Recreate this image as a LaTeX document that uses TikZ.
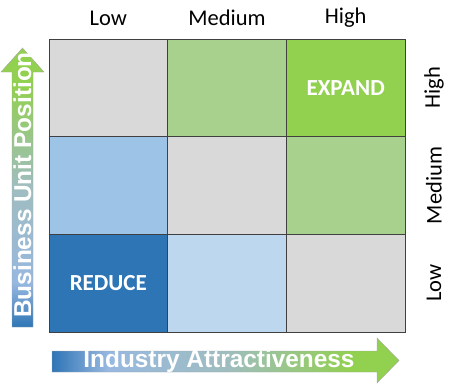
\documentclass[tikz,border=0pt]{standalone}
\usepackage{fontspec}
\setmainfont{Carlito}
\newfontfamily\arrowfont{Liberation Sans}
\definecolor{cellgray}{HTML}{D9D9D9}
\definecolor{palegreen}{HTML}{A9D18E}
\definecolor{brightgreen}{HTML}{92D050}
\definecolor{midblue}{HTML}{9DC3E6}
\definecolor{deepblue}{HTML}{2E75B6}
\definecolor{paleblue}{HTML}{BDD7EE}
\definecolor{fadeblue}{HTML}{97B8E0}
\definecolor{fadegray}{HTML}{9FBDC0}
\pgfdeclarehorizontalshading{xgrad}{100bp}{color(0bp)=(deepblue); color(25bp)=(deepblue); color(33bp)=(fadeblue); color(50bp)=(fadegray); color(68bp)=(brightgreen); color(100bp)=(brightgreen)}
\pgfdeclareverticalshading{ygrad}{100bp}{color(0bp)=(deepblue); color(25bp)=(deepblue); color(33bp)=(fadeblue); color(50bp)=(fadegray); color(68bp)=(brightgreen); color(100bp)=(brightgreen)}
\tikzset{
  cell/.style={draw=black!75,line width=0.8pt,minimum width=118.67pt,minimum height=97.67pt,inner sep=0pt,outer sep=0pt},
  axislabel/.style={font=\fontsize{22.5}{26}\selectfont},
  celltext/.style={text=white,font=\fontsize{23}{26}\selectfont\bfseries},
  arrowtext/.style={text=white,font=\arrowfont\fontsize{24.4}{28}\selectfont\bfseries}
}
\begin{document}
\begin{tikzpicture}[x=1pt,y=-1pt]
  \useasboundingbox (0,0) rectangle (454,384);
  % grid of cells
  \node[cell,fill=cellgray]    (hl) at (108.33,87.83) {};
  \node[cell,fill=palegreen]   (hm) at (227,87.83) {};
  \node[cell,fill=brightgreen] (hh) at (345.67,87.83) {};
  \node[cell,fill=midblue]     (ml) at (108.33,185.5) {};
  \node[cell,fill=cellgray]    (mm) at (227,185.5) {};
  \node[cell,fill=palegreen]   (mh) at (345.67,185.5) {};
  \node[cell,fill=deepblue]    (ll) at (108.33,283.17) {};
  \node[cell,fill=paleblue]    (lm) at (227,283.17) {};
  \node[cell,fill=cellgray]    (lh) at (345.67,283.17) {};
  \node[celltext] (expand) at (hh) {EXPAND};
  \node[celltext] (reduce) at (ll) {REDUCE};
  % column labels
  \node[axislabel] (collow) at (108.33,18) {Low};
  \node[axislabel] (colmed) at (227,18) {Medium};
  \node[axislabel] (colhigh) at (345.67,18) {High};
  % row labels
  \node[axislabel,rotate=90] (rowhigh) at (434,87.83) {High};
  \node[axislabel,rotate=90] (rowmed) at (434,185.5) {Medium};
  \node[axislabel,rotate=90] (rowlow) at (434,283.17) {Low};
  % arrows
  \shade[shading=xgrad,draw=black!35,line width=0.4pt]
    (52,351) -- (377,351) -- (377,338) -- (399,360.5) -- (377,383) -- (377,372) -- (52,372) -- cycle;
  \shade[shading=ygrad,draw=black!35,line width=0.4pt]
    (12,327) -- (12,72) -- (1,72) -- (22.5,48) -- (44,72) -- (33,72) -- (33,327) -- cycle;
  \node[arrowtext] (xname) at (219,361.5) {Industry Attractiveness};
  \node[arrowtext,rotate=90] (yname) at (22.5,185) {Business Unit Position};
\end{tikzpicture}
\end{document}
